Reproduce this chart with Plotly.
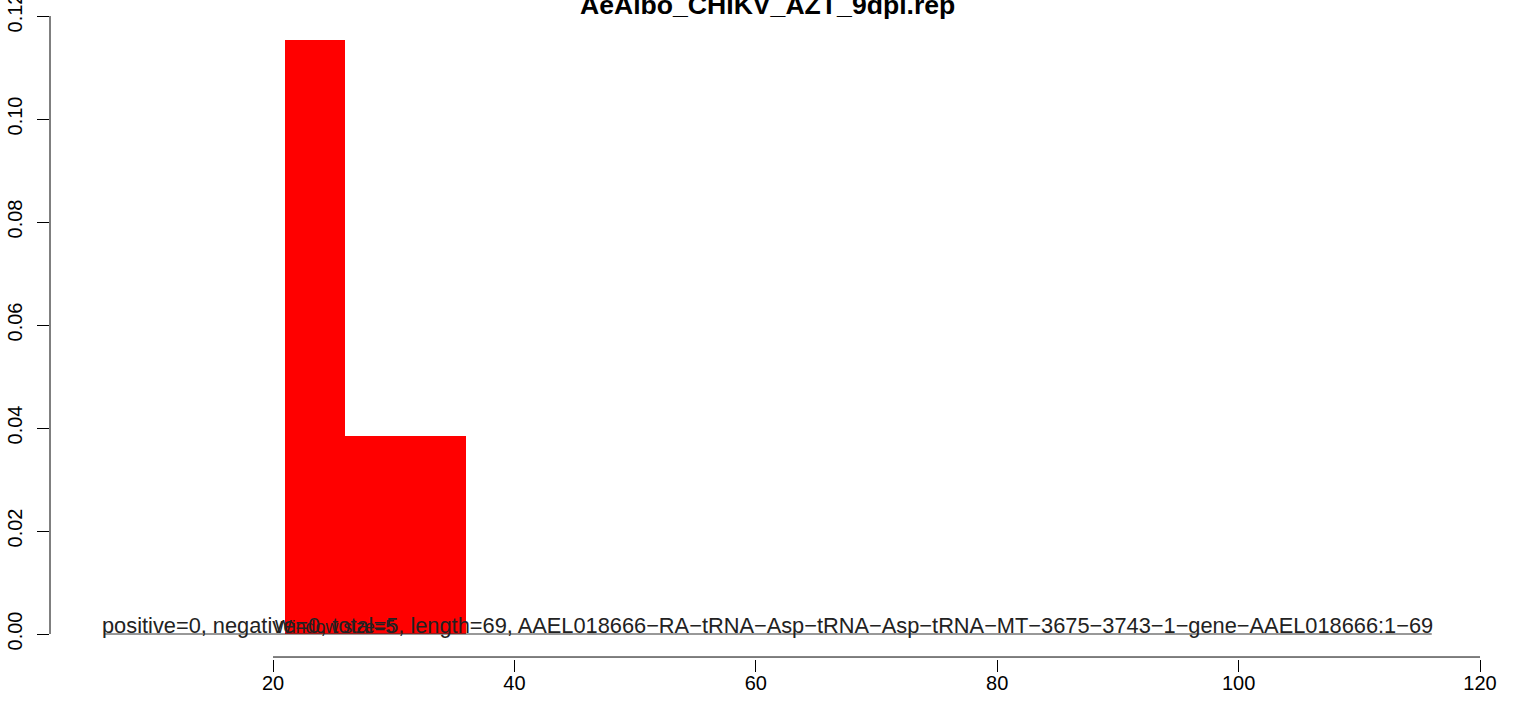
import plotly.graph_objects as go

# data
bin_left = [21, 26]
bin_right = [26, 36]
density = [0.1154, 0.0385]
x_ticks = [20, 40, 60, 80, 100, 120]
y_ticks = [0.00, 0.02, 0.04, 0.06, 0.08, 0.10, 0.12]
y_tick_labels = ["0.00", "0.02", "0.04", "0.06", "0.08", "0.10", "0.12"]
xlim = [6, 116]
title = "AeAlbo_CHIKV_AZT_9dpi.rep"
info_text = ("positive=0, negative=0, total=5, length=69, "
             "AAEL018666\u2212RA\u2212tRNA\u2212Asp\u2212tRNA\u2212Asp\u2212tRNA\u2212MT\u22123675\u22123743\u22121\u2212gene\u2212AAEL018666:1\u221269")
window_text = "Window size=5"

FONT = "Liberation Sans, Arial, Helvetica, sans-serif"

centers = [(a + b) / 2 for a, b in zip(bin_left, bin_right)]
widths = [b - a for a, b in zip(bin_left, bin_right)]

fig = go.Figure()
fig.add_trace(go.Bar(x=centers, y=density, width=widths, base=0,
                     marker=dict(color="#FF0000", line=dict(width=0)),
                     showlegend=False, hoverinfo="skip"))

# R-style axis lines limited to tick range
fig.add_shape(type="line", xref="x", yref="paper", x0=x_ticks[0], x1=x_ticks[-1], y0=0.003, y1=0.003,
              line=dict(color="black", width=1))
fig.add_shape(type="line", xref="paper", yref="y", x0=0, x1=0, y0=y_ticks[0], y1=y_ticks[-1],
              line=dict(color="black", width=1))
# zero line under the text
fig.add_shape(type="line", xref="x", yref="y", x0=xlim[0], x1=xlim[1], y0=0, y1=0,
              line=dict(color="#333333", width=1))

fig.add_annotation(x=sum(xlim) / 2, y=0, xref="x", yref="y", text=info_text, showarrow=False,
                   yanchor="bottom", yshift=-6, font=dict(family=FONT, size=21.8, color="#222222"))
fig.add_annotation(x=25.14, y=0, xref="x", yref="y", text=window_text, showarrow=False,
                   yanchor="bottom", yshift=-5, font=dict(family=FONT, size=17.8, color="#222222"))
fig.add_annotation(x=0.5, y=1.0, xref="paper", yref="paper", text="<b>" + title + "</b>", showarrow=False,
                   yanchor="middle", yshift=-5, font=dict(family=FONT, size=26.6, color="black"))

fig.update_layout(
    width=1513, height=709,
    margin=dict(l=50, r=29, t=0, b=50, autoexpand=False),
    paper_bgcolor="white", plot_bgcolor="white",
    bargap=0,
    xaxis=dict(range=[1.525, 120.33], tickvals=x_ticks, ticktext=[str(v) for v in x_ticks],
               ticks="outside", ticklen=12, tickwidth=1, tickcolor="black",
               showgrid=False, zeroline=False, showline=False, automargin=False,
               ticklabeloverflow="allow", ticklabelstandoff=-6,
               tickfont=dict(family=FONT, size=20, color="black")),
    yaxis=dict(range=[-0.004854, 0.12311], tickvals=y_ticks, ticktext=y_tick_labels,
               ticks="outside", ticklen=12, tickwidth=1, tickcolor="black",
               tickangle=-90, showgrid=False, zeroline=False, showline=False, automargin=False,
               ticklabeloverflow="allow", ticklabelstandoff=7,
               tickfont=dict(family=FONT, size=20, color="black")),
)

fig.write_html("out.html", config={"displayModeBar": False},
               post_script="document.body.style.margin='0px';")
